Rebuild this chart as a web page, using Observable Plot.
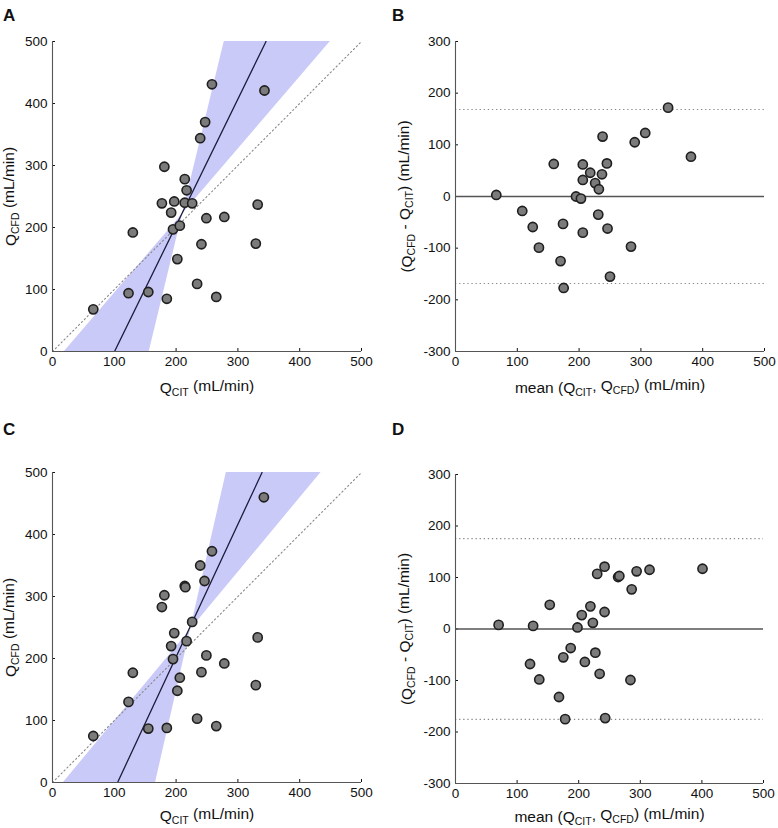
<!DOCTYPE html>
<html><head><meta charset="utf-8">
<script src="https://cdn.jsdelivr.net/npm/d3@7"></script>
<script src="https://cdn.jsdelivr.net/npm/@observablehq/plot@0.6"></script>
<style>
body{margin:0;background:#fff;font-family:"Liberation Sans",Arial,sans-serif}
#grid{width:778px;display:flex;flex-wrap:wrap}
.cell{position:relative;width:389px;height:414px}
.cell svg{display:block}
.tag{position:absolute;left:3px;top:6px;font-weight:bold;font-size:17px;color:#111;font-family:"Liberation Sans",Arial,sans-serif}
</style></head><body><div id="grid"></div>
<script>
// ---------- Data ----------
// Panel A: Q_CIT vs Q_CFD
const aCIT = [66,123,130,155,185,181,177,192,197,195,206,202,214,217,214,226,239,247,258,241,249,234,265,278,332,329,343];
const aCFD = [68,94,192,96,85,298,239,224,242,197,203,149,278,260,240,239,344,370,431,173,215,109,88,217,237,174,421];
// regression line [x at y=0, slope]; band edges [x at y=0, slope]
const aLine = [100.4, 2.04];
const aBand = [[19.4, 1.162], [156.6, 4.12]];

// Panel B: Bland-Altman
const bMean = [66,108,125,135,159,170,174,175,206,206,195,203,206,218,226,232,231,237,238,245,246,250,284,290,307,344,381];
const bDiff = [3,-28,-59,-99,63,-125,-53,-177,62,32,0,-4,-70,46,26,14,-35,43,116,64,-62,-155,-97,105,123,172,77];
const bBias = [0];
const bLoA = [-168.5, 168.5];

// Panel C
const cCIT = [66,123,130,155,185,181,177,192,197,195,206,202,214,217,215,226,239,246,258,241,249,234,265,278,332,329,342];
const cCFD = [75,130,177,87,88,302,283,220,241,199,169,148,317,228,315,259,350,325,373,178,205,103,91,192,234,157,460];
const cLine = [105.3, 2.139];
const cBand = [[17.8, 1.1996], [166.8, 4.367]];

// Panel D
const dMean = [70,126,121,136,153,168,175,178,187,198,205,210,219,223,227,230,234,242,242,243,264,266,284,286,294,315,401];
const dDiff = [8,6,-68,-98,47,-132,-55,-175,-37,3,27,-64,44,12,-46,107,-87,33,121,-173,101,103,-99,77,112,115,117];
const dBias = [0];
const dLoA = [-175.5, 175.5];

const flowTicks = [0,100,200,300,400,500];
const diffTicks = [-300,-200,-100,0,100,200,300];

const labCITx = [["Q",0],["CIT",1],[" (mL/min)",0]];
const labCFDy = [["Q",0],["CFD",1],[" (mL/min)",0]];
const labMean = [["mean (Q",0],["CIT",1],[", Q",0],["CFD",1],[") (mL/min)",0]];
const labDiff = [["(Q",0],["CFD",1],[" - Q",0],["CIT",1],[") (mL/min)",0]];

// ---------- Helpers ----------
const FONT = "Liberation Sans, Arial, Helvetica, sans-serif";
function setLabel(svg, key, parts) {
  const t = Array.from(svg.querySelectorAll("text")).find(e => e.textContent.includes(key));
  if (!t) return;
  while (t.firstChild) t.removeChild(t.firstChild);
  t.style.fontSize = "15.5px";
  t.style.fill = "#111";
  let sub = false;
  for (const [s, isSub] of parts) {
    const ts = document.createElementNS("http://www.w3.org/2000/svg", "tspan");
    ts.textContent = s;
    if (isSub) ts.style.fontSize = "10.5px";
    if (isSub && !sub) { ts.setAttribute("dy", "0.3em"); sub = true; }
    else if (!isSub && sub) { ts.setAttribute("dy", "-0.3em"); sub = false; }
    t.appendChild(ts);
  }
}

function dots(X, Y) {
  return Plot.dot(d3.range(X.length), {x: i => X[i], y: i => Y[i], r: 4.6, fill: "#7b7b7b", stroke: "#1f1f1f", strokeWidth: 1.6});
}

function panel(tag, cfg) {
  const cell = document.createElement("div");
  cell.className = "cell";
  const chart = Plot.plot({
    width: 389, height: 414,
    marginLeft: cfg.m[0], marginTop: cfg.m[1], marginRight: cfg.m[2], marginBottom: cfg.m[3],
    style: {fontFamily: FONT, fontSize: "13.5px", color: "#111", background: "#fff"},
    x: {domain: cfg.xd, ticks: cfg.xt, tickSize: -3, tickPadding: 8, label: "XLABEL", labelAnchor: "center", labelOffset: cfg.xlo, tickFormat: d => String(d)},
    y: {domain: cfg.yd, ticks: cfg.yt, tickSize: -3, tickPadding: 8, label: "YLABEL", labelAnchor: "center", labelOffset: cfg.ylo, tickFormat: d => String(d)},
    marks: [
      ...cfg.marks,
      Plot.ruleY([cfg.yd[0]], {stroke: "#555", strokeWidth: 1.1}),
      Plot.ruleX([cfg.xd[0]], {stroke: "#555", strokeWidth: 1.1})
    ]
  });
  setLabel(chart, "XLABEL", cfg.xl);
  setLabel(chart, "YLABEL", cfg.yl);
  cell.appendChild(chart);
  const t = document.createElement("div");
  t.className = "tag"; t.textContent = tag;
  cell.appendChild(t);
  document.getElementById("grid").appendChild(cell);
}

function scatterMarks(X, Y, line, band, xd, yd) {
  return [
    Plot.areaY(xd, {x: d => d, y1: d => band[0][1] * (d - band[0][0]), y2: d => band[1][1] * (d - band[1][0]), fill: "#cacaf9", clip: true}),
    Plot.line(xd.map(v => [v, v]), {stroke: "#888", strokeWidth: 1.1, strokeDasharray: "1.3,2.8"}),
    Plot.line(yd.map(y => [line[0] + y / line[1], y]), {stroke: "#1c1c3c", strokeWidth: 1.3, clip: true}),
    dots(X, Y)
  ];
}
function baMarks(X, Y, bias, loa) {
  return [
    Plot.ruleY(loa, {stroke: "#888", strokeWidth: 1.1, strokeDasharray: "1.3,2.8"}),
    Plot.ruleY(bias, {stroke: "#555", strokeWidth: 1.4}),
    dots(X, Y)
  ];
}

const fd = [0, 500], dd = [-300, 300];
panel("A", {m: [52, 41, 28, 63], xd: fd, yd: fd, xt: flowTicks, yt: flowTicks, xl: labCITx, yl: labCFDy, xlo: 41, ylo: 48,
  marks: scatterMarks(aCIT, aCFD, aLine, aBand, fd, fd)});
panel("B", {m: [66, 41, 14, 63], xd: fd, yd: dd, xt: flowTicks, yt: diffTicks, xl: labMean, yl: labDiff, xlo: 41, ylo: 55,
  marks: baMarks(bMean, bDiff, bBias, bLoA)});
panel("C", {m: [52, 58, 28, 46], xd: fd, yd: fd, xt: flowTicks, yt: flowTicks, xl: labCITx, yl: labCFDy, xlo: 38, ylo: 48,
  marks: scatterMarks(cCIT, cCFD, cLine, cBand, fd, fd)});
panel("D", {m: [66, 60, 15, 45], xd: fd, yd: dd, xt: flowTicks, yt: diffTicks, xl: labMean, yl: labDiff, xlo: 38, ylo: 55,
  marks: baMarks(dMean, dDiff, dBias, dLoA)});
</script>
</body></html>
